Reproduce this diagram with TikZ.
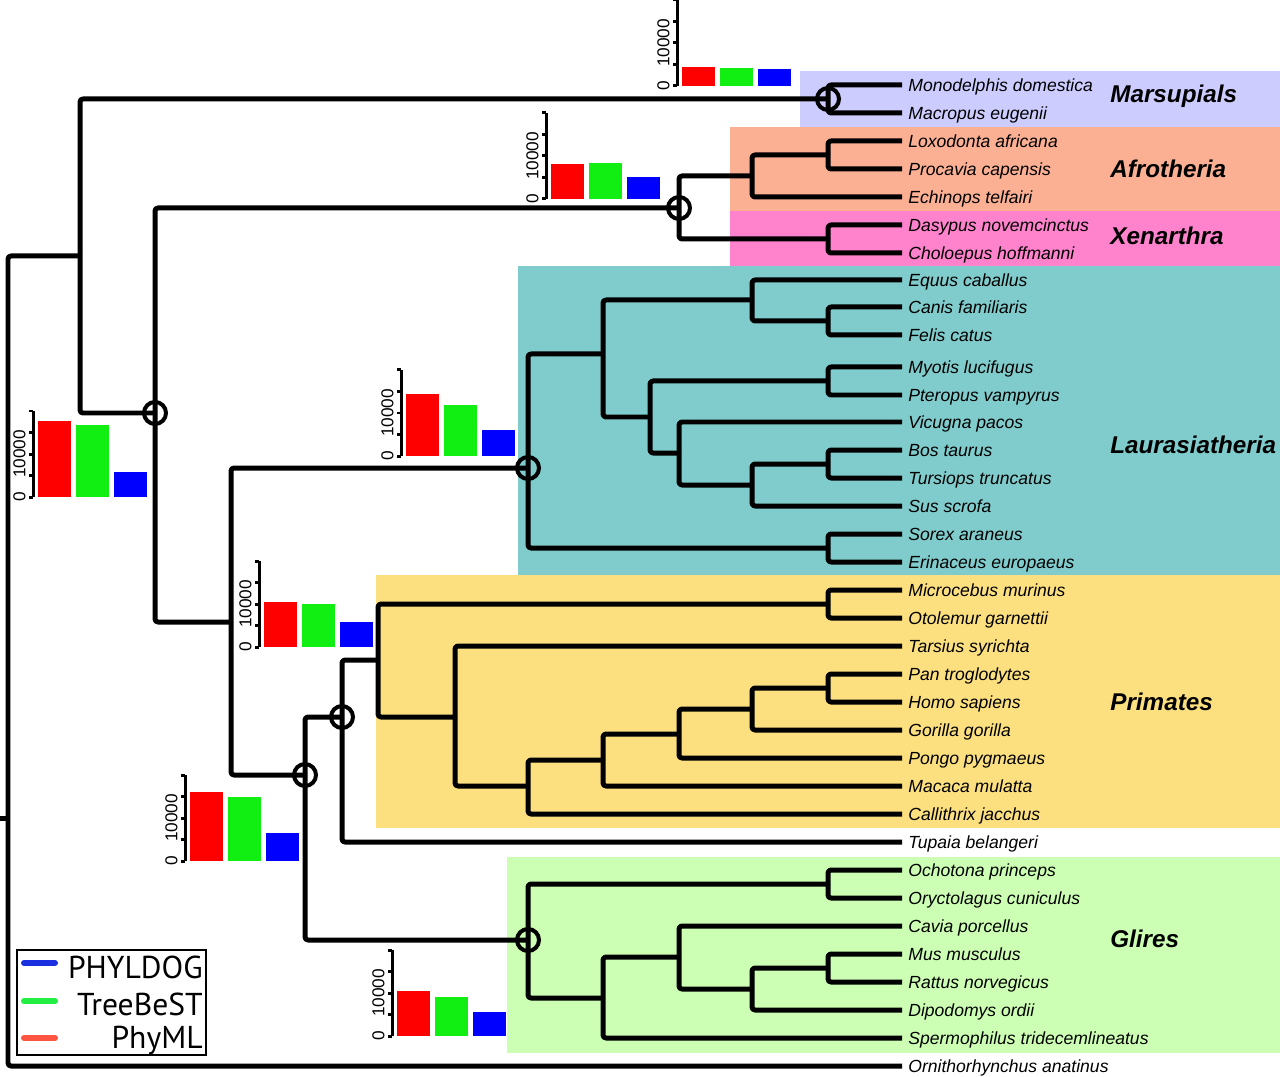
\documentclass[tikz,border=0pt]{standalone}
\usepackage{fontspec}
\setmainfont{Liberation Sans}
\newfontfamily\legfont{PT Sans}
\definecolor{marsupc}{HTML}{CCCCFF}
\definecolor{afroc}{HTML}{FBB094}
\definecolor{xenc}{HTML}{FF82CC}
\definecolor{laurc}{HTML}{80CCCC}
\definecolor{primc}{HTML}{FCE080}
\definecolor{glirc}{HTML}{CCFFB3}
\definecolor{phymlc}{HTML}{FF0000}
\definecolor{treebestc}{HTML}{11EE11}
\definecolor{phyldogc}{HTML}{0000FF}
\definecolor{legred}{HTML}{FF5540}
\definecolor{leggreen}{HTML}{22EE44}
\definecolor{legblue}{HTML}{1A30E0}

\begin{document}
\begin{tikzpicture}[x=0.02cm,y=-0.02cm,
    branch/.style={line width=0.1cm,line join=round,rounded corners=0.06cm},
    dupnode/.style={line width=0.08cm},
    leaf/.style={anchor=west,inner xsep=0.12cm,inner ysep=0pt,
        text height=9pt,text depth=1.8pt,font={\fontsize{10pt}{12pt}\selectfont\itshape}},
    clade/.style={anchor=base west,inner sep=0pt,
        font={\fontsize{13.8pt}{16pt}\selectfont\bfseries\itshape}},
    axis/.style={line width=0.06cm},
    axislab/.style={rotate=90,anchor=south,inner sep=0pt,
        font={\fontsize{9.8pt}{11pt}\selectfont}},
    legline/.style={line width=0.12cm,line cap=round},
    legtext/.style={anchor=base east,inner sep=0pt,
        font={\legfont\fontsize{18pt}{20pt}\selectfont}}]
\useasboundingbox (0,0) rectangle (1280,1077);

% clade backgrounds
\fill[marsupc](800,71) rectangle (1280,127);
\fill[afroc](730,127) rectangle (1280,211);
\fill[xenc](730,211) rectangle (1280,266);
\fill[laurc](518,266) rectangle (1280,575);
\fill[primc](376,575) rectangle (1280,828);
\fill[glirc](507,857) rectangle (1280,1053);

\node[clade] (lmarsup) at (1110,103) {Marsupials};
\node[clade] (lafro) at (1110,178) {Afrotheria};
\node[clade] (lxenar) at (1110,245) {Xenarthra};
\node[clade] (llaur) at (1110,453) {Laurasiatheria};
\node[clade] (lprim) at (1110,710) {Primates};
\node[clade] (lglires) at (1110,947) {Glires};

% internal nodes
\coordinate (rootstem) at (0,818);
\coordinate (root) at (8,818);
\coordinate (theria) at (80,256);
\coordinate (marsup) at (828,99);
\coordinate (placent) at (155,413);
\coordinate (atlanto) at (679,208);
\coordinate (afro) at (752,176);
\coordinate (paenung) at (828,155);
\coordinate (xenar) at (828,239);
\coordinate (boreo) at (231,622);
\coordinate (laur) at (528,468);
\coordinate (l603) at (603,354);
\coordinate (l752) at (752,300);
\coordinate (canfel) at (828,321);
\coordinate (l650) at (650,417);
\coordinate (chiro) at (828,381);
\coordinate (l679) at (679,453);
\coordinate (l752b) at (752,485);
\coordinate (bostur) at (828,464);
\coordinate (eulip) at (828,548);
\coordinate (euarglir) at (305,775);
\coordinate (euarch) at (342,717);
\coordinate (prim) at (378,660);
\coordinate (strep) at (828,604);
\coordinate (haplo) at (455,717);
\coordinate (simi) at (528,786);
\coordinate (catar) at (603,760);
\coordinate (homid) at (679,734);
\coordinate (homin) at (752,709);
\coordinate (panhomo) at (828,688);
\coordinate (glires) at (528,940);
\coordinate (lago) at (828,884);
\coordinate (roden) at (603,998);
\coordinate (r679) at (679,957);
\coordinate (r752) at (752,989);
\coordinate (murin) at (828,968);

% leaves
\foreach \n/\y/\t in {mdo/85/Monodelphis domestica,meu/113/Macropus eugenii,
    laf/141/Loxodonta africana,pca/169/Procavia capensis,ete/197/Echinops telfairi,
    dno/225/Dasypus novemcinctus,cho/253/Choloepus hoffmanni,
    eca/280/Equus caballus,cfa/307/Canis familiaris,fca/335/Felis catus,
    mlu/367/Myotis lucifugus,pva/395/Pteropus vampyrus,vpa/422/Vicugna pacos,
    bta/450/Bos taurus,ttr/478/Tursiops truncatus,ssc/506/Sus scrofa,
    sar/534/Sorex araneus,eeu/562/Erinaceus europaeus,
    mmr/590/Microcebus murinus,oga/618/Otolemur garnettii,tsy/646/Tarsius syrichta,
    ptr/674/Pan troglodytes,hsa/702/Homo sapiens,ggo/730/Gorilla gorilla,
    ppy/758/Pongo pygmaeus,mml/786/Macaca mulatta,cja/814/Callithrix jacchus,
    tbe/842/Tupaia belangeri,opr/870/Ochotona princeps,ocu/898/Oryctolagus cuniculus,
    cpo/926/Cavia porcellus,mmu/954/Mus musculus,rno/982/Rattus norvegicus,
    dor/1010/Dipodomys ordii,str/1038/Spermophilus tridecemlineatus,
    oan/1066/Ornithorhynchus anatinus}
    \node[leaf] (\n) at (902,\y) {\t};

\draw[branch](rootstem)--(root);
\foreach \p/\c in {root/theria,theria/marsup,theria/placent,placent/atlanto,
    placent/boreo,atlanto/afro,atlanto/xenar,afro/paenung,boreo/laur,
    boreo/euarglir,laur/l603,laur/eulip,l603/l752,l603/l650,l752/canfel,
    l650/chiro,l650/l679,l679/l752b,l752b/bostur,euarglir/euarch,
    euarglir/glires,euarch/prim,prim/strep,prim/haplo,haplo/simi,simi/catar,
    catar/homid,homid/homin,homin/panhomo,glires/lago,glires/roden,
    roden/r679,r679/r752,r752/murin}
    \draw[branch](\p) |- (\c);
\foreach \p/\c in {marsup/mdo,marsup/meu,paenung/laf,paenung/pca,afro/ete,
    xenar/dno,xenar/cho,l752/eca,canfel/cfa,canfel/fca,chiro/mlu,chiro/pva,
    l679/vpa,bostur/bta,bostur/ttr,l752b/ssc,eulip/sar,eulip/eeu,strep/mmr,
    strep/oga,haplo/tsy,panhomo/ptr,panhomo/hsa,homin/ggo,homid/ppy,
    catar/mml,simi/cja,euarch/tbe,lago/opr,lago/ocu,r679/cpo,murin/mmu,
    murin/rno,r752/dor,roden/str,root/oan}
    \draw[branch](\p) |- (\c.west);

\foreach \c in {marsup,atlanto,placent,laur,euarch,euarglir,glires}
    \draw[dupnode](\c) circle[radius=0.22cm];

% gene counts: PhyML, TreeBeST, PHYLDOG
\foreach \ax/\ay/\hr/\hg/\hb in {677/86/19/18/17,546/199/35/36/22,
    401/456/62/51/26,33/497/76/72/25,259/647/45/43/25,185/861/69/64/28,
    392/1036/45/39/24}{
  \draw[axis](\ax,\ay)--(\ax,\ay-86);
  \foreach \t in {0,...,4}
    \draw[axis](\ax,\ay-21.5*\t)--(\ax-4,\ay-21.5*\t);
  \node[axislab] (zero\ax) at (\ax-7,\ay) {0};
  \node[axislab] (tenk\ax) at (\ax-7,\ay-43) {10000};
  \fill[phymlc](\ax+5,\ay) rectangle ++(33,-\hr);
  \fill[treebestc](\ax+43,\ay) rectangle ++(33,-\hg);
  \fill[phyldogc](\ax+81,\ay) rectangle ++(33,-\hb);
}

% legend
\draw[line width=0.035cm](17,950) rectangle (206,1055);
\draw[legline,legblue](24,963)--(55,963);
\draw[legline,leggreen](24,1001)--(55,1001);
\draw[legline,legred](24,1038)--(55,1038);
\node[legtext] (lphyldog) at (203,978) {PHYLDOG};
\node[legtext] (ltreebest) at (203,1015) {TreeBeST};
\node[legtext] (lphyml) at (203,1048) {PhyML};
\end{tikzpicture}
\end{document}
